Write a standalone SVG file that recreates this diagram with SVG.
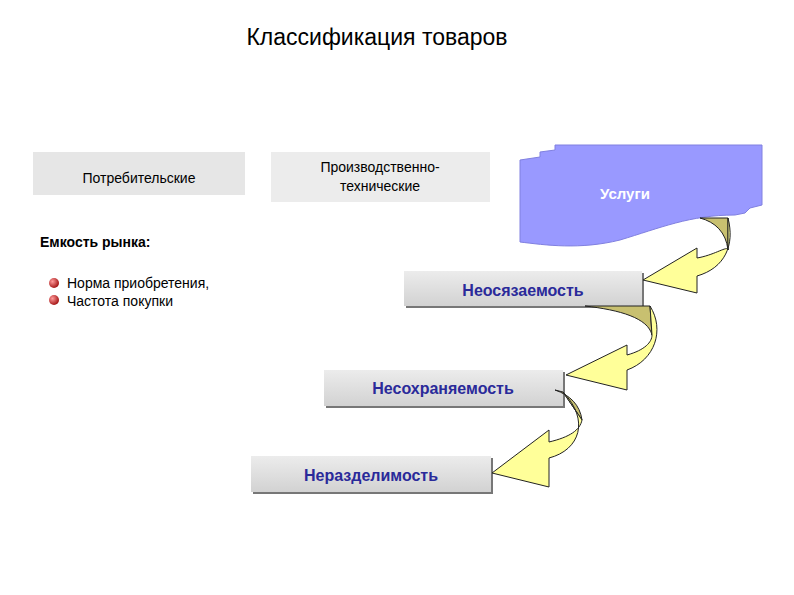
<svg xmlns="http://www.w3.org/2000/svg" width="794" height="595" viewBox="0 0 794 595">
<defs>
<style>
text{font-family:"Liberation Sans",Arial,sans-serif}
.lbl{font-size:14px;fill:#000;text-anchor:middle}
.blue{font-size:16px;font-weight:bold;fill:#2a2a9a;text-anchor:middle}
.arr{fill:#ffff99;stroke:#222;stroke-width:1}
.back{fill:#c8c070;stroke:#222;stroke-width:1}
</style>
<linearGradient id="g" x1="0" y1="0" x2="0" y2="1"><stop offset="0" stop-color="#ececec"/><stop offset="1" stop-color="#d2d2d2"/></linearGradient>
<radialGradient id="rb" cx="0.35" cy="0.35" r="0.7"><stop offset="0" stop-color="#ff9a9a"/><stop offset="1" stop-color="#a01010"/></radialGradient>
</defs>
<rect width="794" height="595" fill="#fff"/>
<text x="377" y="45" style="font-size:23px" text-anchor="middle">Классификация товаров</text>
<g id="potreb"><rect x="33" y="152" width="212" height="43" fill="#e6e6e6"/><text class="lbl" x="139" y="183">Потребительские</text></g>
<g id="proizv"><rect x="271" y="152" width="219" height="50" fill="#ececec"/><text class="lbl" x="380" y="172">Производственно-</text><text class="lbl" x="380" y="191">технические</text></g>
<g id="uslugi">
<path d="M555,145 L762,145 L762,205 L750,208 L745,213 L735,215 C690,215 660,228 620,240 C580,250 545,245 520,242 L520,160 L540,157 L540,152 L555,150 Z" fill="#9999ff" stroke="#8080e0"/>
<text x="625" y="199" style="font-size:15px;font-weight:bold;fill:#fff" text-anchor="middle">Услуги</text></g>
<g id="emkost"><text x="40" y="247" style="font-size:14px;font-weight:bold">Емкость рынка:</text>
<circle cx="54" cy="283" r="5" fill="url(#rb)"/><circle cx="54" cy="300" r="5" fill="url(#rb)"/>
<text x="67" y="288" style="font-size:14px">Норма приобретения,</text><text x="67" y="306" style="font-size:14px">Частота покупки</text></g>
<g id="n1"><rect x="406" y="273" width="238" height="35" fill="#777"/><rect x="404" y="271" width="238" height="35" fill="url(#g)"/><text class="blue" x="523" y="296">Неосязаемость</text></g>
<g id="n2"><rect x="326" y="372" width="239" height="36" fill="#777"/><rect x="324" y="370" width="239" height="36" fill="url(#g)"/><text class="blue" x="443" y="394">Несохраняемость</text></g>
<g id="n3"><rect x="253" y="458" width="240" height="36" fill="#777"/><rect x="251" y="456" width="240" height="36" fill="url(#g)"/><text class="blue" x="371" y="481">Неразделимость</text></g>
<g id="connectors">
<path class="back" d="M700,218 C715,222 726,232 728,250 L728,218 Z"/>
<path class="arr" d="M728,218 C735,245 725,268 697,276 L697,293 L643,280 L697,248 L697,258 C715,255 728,245 728,250 Z"/>
<path class="back" d="M585,306 C620,310 648,318 652,335 L650,306 Z"/>
<path class="arr" d="M650,306 C665,330 655,360 627,370 L627,390 L566,375 L627,345 L627,355 C645,350 652,342 652,335 Z"/>
<path class="back" d="M555,390 C570,395 580,405 582,420 L563,392 Z"/>
<path class="arr" d="M563,392 C590,420 580,450 549,458 L549,487 L492,473 L549,430 L549,442 C570,437 580,430 582,420 Z"/>
</g>
</svg>
